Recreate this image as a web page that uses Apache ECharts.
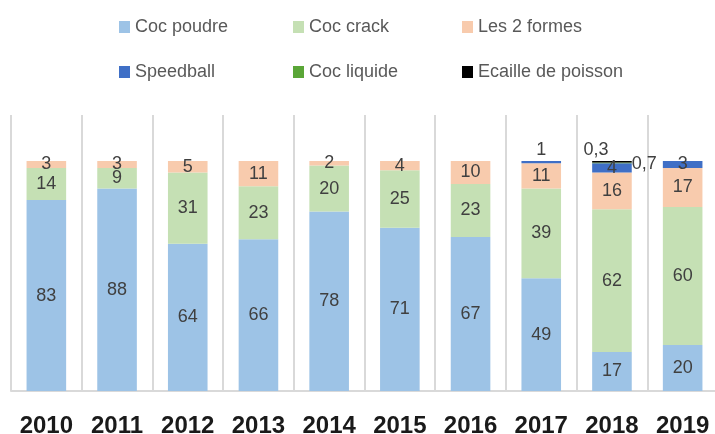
<!DOCTYPE html>
<html>
<head>
<meta charset="utf-8">
<script src="https://cdn.jsdelivr.net/npm/echarts@6/dist/echarts.min.js"></script>
<style>
  html, body { margin: 0; padding: 0; background: #fff; }
  #chart { width: 715px; height: 434px; }
</style>
</head>
<body>
<div id="chart"></div>
<script>
// data (percentages per year)
const years = ['2010', '2011', '2012', '2013', '2014', '2015', '2016', '2017', '2018', '2019'];
const cocPoudre = [83, 88, 64, 66, 78, 71, 67, 49, 17, 20];
const cocCrack = [14, 9, 31, 23, 20, 25, 23, 39, 62, 60];
const les2Formes = [3, 3, 5, 11, 2, 4, 10, 11, 16, 17];
const speedball = [0, 0, 0, 0, 0, 0, 0, 1, 4, 3];
const cocLiquide = [0, 0, 0, 0, 0, 0, 0, 0, 0.3, 0];
const ecaille = [0, 0, 0, 0, 0, 0, 0, 0, 0.7, 0];

const names = ['Coc poudre', 'Coc crack', 'Les 2 formes', 'Speedball', 'Coc liquide', 'Ecaille de poisson'];
const values = [cocPoudre, cocCrack, les2Formes, speedball, cocLiquide, ecaille];
const colors = ['#9dc3e6', '#c5e0b4', '#f8cbad', '#3f6fc6', '#5aa637', '#000000'];

// labels that sit outside their thin segment
const labelOverrides = {
  'Speedball': { 7: { position: 'top', distance: 2 } },
  'Coc liquide': { 8: { position: 'top', distance: 4, offset: [-16, 0] } },
  'Ecaille de poisson': { 8: { position: 'right', distance: 0, offset: [0, 2] } }
};

// legend placement, two rows of three
const legendPos = [
  [114, 13], [288, 13], [457, 13],
  [114, 58], [288, 58], [457, 58]
];

const chart = echarts.init(document.getElementById('chart'));

const series = names.map((name, s) => ({
  name: name,
  type: 'bar',
  stack: 'total',
  barWidth: '56%',
  itemStyle: { color: colors[s] },
  label: {
    show: true,
    position: 'inside',
    color: '#404040',
    fontFamily: 'Liberation Sans',
    fontSize: 18,
    formatter: p => p.value === 0 ? '' : String(p.value).replace('.', ',')
  },
  data: values[s].map((v, i) => {
    const o = labelOverrides[name] && labelOverrides[name][i];
    return o ? { value: v, label: o } : v;
  })
}));

chart.setOption({
  animation: false,
  legend: names.map((name, s) => ({
    data: [name],
    left: legendPos[s][0],
    top: legendPos[s][1],
    itemWidth: 11,
    itemHeight: 12,
    icon: 'rect',
    selectedMode: false,
    textStyle: { color: '#595959', fontFamily: 'Liberation Sans', fontSize: 18 }
  })),
  grid: { left: 11, width: 707, top: 115, bottom: 43, outerBoundsMode: 'none' },
  xAxis: {
    type: 'category',
    data: years,
    axisTick: { show: false },
    axisLine: { lineStyle: { color: '#d9d9d9', width: 2 } },
    splitLine: { show: true, lineStyle: { color: '#d9d9d9', width: 2 } },
    axisLabel: {
      color: '#1a1a1a',
      fontFamily: 'Liberation Sans',
      fontWeight: 'bold',
      fontSize: 24,
      margin: 23
    }
  },
  yAxis: {
    type: 'value',
    min: 0,
    max: 120,
    show: false,
    splitLine: { show: false }
  },
  series: series
});
</script>
</body>
</html>
